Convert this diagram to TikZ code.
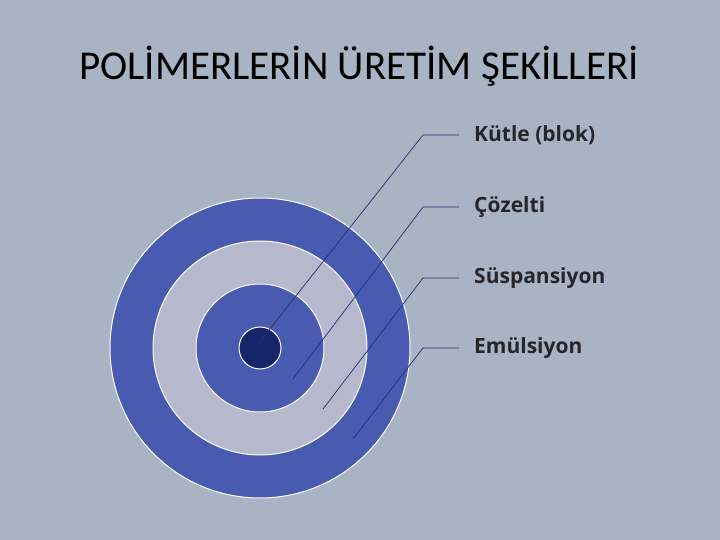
\documentclass[tikz,border=0pt]{standalone}
\usepackage{fontspec}
\setmainfont{Carlito}
\newfontfamily\lblfont{Open Sans}
\usetikzlibrary{positioning}

\definecolor{bgblue}{RGB}{168,179,196}
\definecolor{ringblue}{RGB}{73,91,176}
\definecolor{ringgray}{RGB}{182,185,205}
\definecolor{coreblue}{RGB}{22,38,104}
\definecolor{linkblue}{RGB}{38,48,112}
\definecolor{textgray}{RGB}{38,38,42}
\tikzstyle{ring} = [draw=white, line width=1pt, circle, inner sep=0pt]
\tikzstyle{tag} = [anchor=west, inner sep=0pt, text=textgray, font=\lblfont\bfseries\fontsize{21}{25}\selectfont]

\begin{document}
\begin{tikzpicture}[x=1pt,y=-1pt,
			link/.style = {draw=linkblue, line width=0.7pt},
			title/.style = {font=\fontsize{41}{48}\selectfont, text=black}]
			\useasboundingbox[fill=bgblue] (0,0) rectangle (720,540);
			\node (title)[title] at (359,66) {POLİMERLERİN ÜRETİM ŞEKİLLERİ};
			
			% target
			\node (outer)[ring, fill=ringblue, minimum size=300pt] at (260,348) {};
			\node (solring)[ring, fill=ringgray, minimum size=214pt] at (outer) {};
			\node (inner)[ring, fill=ringblue, minimum size=128pt] at (outer) {};
			\node (core)[ring, fill=coreblue, minimum size=42pt] at (outer) {};
			
			% labels
			\node (kutle)[tag] at (474,135) {Kütle (blok)};
			\node (cozelti)[tag] at (474,207) {Çözelti};
			\node (suspansiyon)[tag] at (474,278) {Süspansiyon};
			\node (emulsiyon)[tag] at (474,348) {Emülsiyon};
			
			\coordinate (p1) at (258,344);
			\coordinate (p2) at (293,379);
			\coordinate (p3) at (323,409);
			\coordinate (p4) at (353,439);
			\coordinate (e1) at (423,135);
			\coordinate (e2) at (423,207);
			\coordinate (e3) at (423,278);
			\coordinate (e4) at (423,348);
			\draw[link] (p1) -- (e1) -- ([xshift=-15pt]kutle.west);
			\draw[link] (p2) -- (e2) -- ([xshift=-15pt]cozelti.west);
			\draw[link] (p3) -- (e3) -- ([xshift=-15pt]suspansiyon.west);
			\draw[link] (p4) -- (e4) -- ([xshift=-15pt]emulsiyon.west);
		\end{tikzpicture}
\end{document}
